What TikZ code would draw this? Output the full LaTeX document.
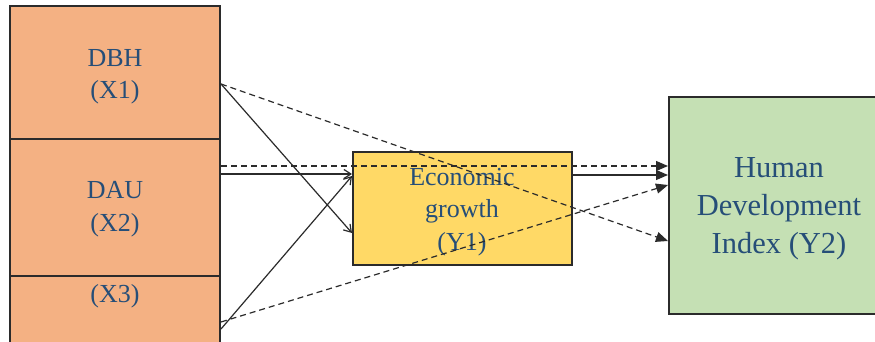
\documentclass[tikz,border=0pt]{standalone}
\usepackage{fontspec}
\setmainfont{Liberation Serif}
\usetikzlibrary{arrows.meta}
\definecolor{orangefill}{HTML}{F4B183}
\definecolor{yellowfill}{HTML}{FFD966}
\definecolor{greenfill}{HTML}{C5E0B4}
\definecolor{txtblue}{HTML}{264E78}
\definecolor{linegray}{HTML}{2B2B2B}
\tikzset{
  box/.style={draw=linegray, line width=1.4pt, inner sep=0pt},
  lbl/.style={anchor=base, inner sep=0pt, text=txtblue, font=\fontsize{26}{31}\selectfont},
  biglbl/.style={anchor=base, inner sep=0pt, text=txtblue, font=\fontsize{30.5}{36}\selectfont},
  solidarrow/.style={draw=linegray, line width=1.2pt, -{Straight Barb[length=7pt,width=9pt]}},
  dasharrow/.style={draw=linegray, line width=1.2pt, dash pattern=on 6pt off 4pt, -{Triangle[length=12pt,width=10pt]}},
  headarrow/.style={draw=linegray, line width=1.2pt, -{Triangle[length=12pt,width=10pt]}}
}
\begin{document}
\begin{tikzpicture}[x=1pt,y=-1pt]
\useasboundingbox (0,0) rectangle (875,342);
\clip (0,0) rectangle (875,342);
\fill[white] (0,0) rectangle (875,342);
% boxes
\node[box, fill=orangefill, minimum width=210pt, minimum height=133pt] (x1) at (115,72.5) {};
\node[box, fill=orangefill, minimum width=210pt, minimum height=137pt] (x2) at (115,207.5) {};
\node[box, fill=orangefill, minimum width=210pt, minimum height=144pt] (x3) at (115,348) {};
\node[box, fill=yellowfill, minimum width=219pt, minimum height=113pt] (y1) at (462.5,208.5) {};
\node[box, fill=greenfill, minimum width=216pt, minimum height=217pt] (y2) at (777,205.5) {};
% labels
\node[lbl] (t1a) at (115,67) {DBH};
\node[lbl] (t1b) at (115,99) {(X1)};
\node[lbl] (t2a) at (115,198) {DAU};
\node[lbl] (t2b) at (115,231) {(X2)};
\node[lbl] (t3b) at (115,302) {(X3)};
\node[lbl] (e1) at (462,185) {Economic};
\node[lbl] (e2) at (462,217) {growth};
\node[lbl] (e3) at (462,250) {(Y1)};
\node[biglbl] (h1) at (779,177) {Human};
\node[biglbl] (h2) at (779,215) {Development};
\node[biglbl] (h3) at (779,253) {Index (Y2)};
% ports
\coordinate (p1) at (221,84);
\coordinate (p2s) at (221,174);
\coordinate (p2d) at (221,166);
\coordinate (p3s) at (221,329);
\coordinate (p3d) at (221,322);
\coordinate (ya) at (352,233);
\coordinate (yb) at (352,174);
\coordinate (yc) at (352,176);
\coordinate (yo) at (572,175);
\coordinate (ga) at (668,241);
\coordinate (gb) at (668,166);
\coordinate (gc) at (668,185);
\coordinate (gd) at (668,175);
% solid arrows to Y1
\draw[solidarrow] (p1) -- (ya);
\draw[solidarrow] (p2s) -- (yb);
\draw[solidarrow] (p3s) -- (yc);
% dashed arrows to Y2
\draw[dasharrow] (p1) -- (ga);
\draw[dasharrow] (p2d) -- (gb);
\draw[dasharrow] (p3d) -- (gc);
% Y1 to Y2
\draw[headarrow] (yo) -- (gd);
\end{tikzpicture}
\end{document}
